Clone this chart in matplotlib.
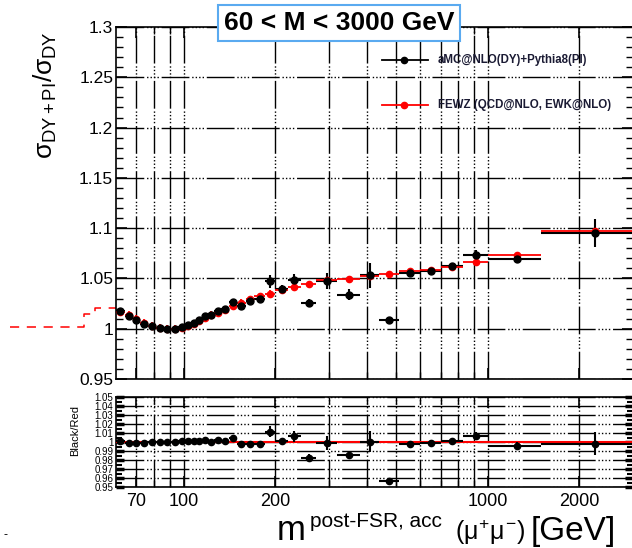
import numpy as np
import matplotlib
matplotlib.use('Agg')
import matplotlib.pyplot as plt
from matplotlib.ticker import FixedLocator, FixedFormatter, NullFormatter
from matplotlib.lines import Line2D

plt.rcParams['font.family'] = ['Liberation Sans', 'DejaVu Sans']
plt.rcParams['mathtext.fontset'] = 'custom'
plt.rcParams['mathtext.rm'] = 'Liberation Sans'
plt.rcParams['mathtext.it'] = 'Liberation Sans'
plt.rcParams['mathtext.bf'] = 'Liberation Sans:bold'

# ---------------- data ----------------
bin_edges = [60, 64, 68, 72, 76, 81, 86, 91, 96, 101, 106, 110, 115, 120, 126, 133,
             141, 150, 160, 171, 185, 200, 220, 243, 273, 320, 380, 440, 510, 600,
             700, 830, 1000, 1500, 3000]
amc_values = [1.018, 1.013, 1.009, 1.005, 1.003, 1.001, 0.9995, 1.000, 1.002, 1.004,
              1.006, 1.009, 1.013, 1.014, 1.018, 1.020, 1.027, 1.023, 1.0275, 1.030,
              1.047, 1.039, 1.048, 1.026, 1.047, 1.034, 1.053, 1.009, 1.055, 1.057,
              1.062, 1.073, 1.069, 1.095]
amc_errors = [0.003, 0.003, 0.003, 0.003, 0.002, 0.002, 0.002, 0.002, 0.002, 0.002,
              0.002, 0.002, 0.002, 0.002, 0.002, 0.002, 0.003, 0.003, 0.003, 0.003,
              0.0065, 0.004, 0.006, 0.004, 0.008, 0.005, 0.0125, 0.002, 0.003, 0.003,
              0.003, 0.005, 0.004, 0.014]
fewz_values = [1.017, 1.014, 1.010, 1.006, 1.003, 1.001, 1.000, 0.9995, 1.001, 1.003,
               1.005, 1.008, 1.011, 1.014, 1.016, 1.019, 1.0227, 1.0255, 1.030, 1.0325,
               1.035, 1.038, 1.0416, 1.044, 1.048, 1.049, 1.0526, 1.0543, 1.057, 1.058,
               1.061, 1.066, 1.0735, 1.097]
fewz_errors = [0.004, 0.004, 0.004, 0.004, 0.004, 0.004, 0.004, 0.004, 0.004, 0.004,
               0.004, 0.004, 0.004, 0.004, 0.004, 0.004, 0.004, 0.004, 0.003, 0.003,
               0.003, 0.002, 0.002, 0.003, 0.002, 0.001, 0.001, 0.001, 0.001, 0.001,
               0.001, 0.001, 0.001, 0.001]
# FEWZ bins below 60 GeV leaking outside the frame
fewz_low_edges = [27, 47, 51, 60]
fewz_low_values = [1.002, 1.0145, 1.021]

x_major = [70, 100, 200, 1000, 2000]
x_major_labels = ['70', '100', '200', '1000', '2000']
x_minor = [80, 90, 300, 400, 500, 600, 700, 800, 900]
y_main_ticks = [0.95, 1.0, 1.05, 1.1, 1.15, 1.2, 1.25, 1.3]
y_main_labels = ['0.95', '1', '1.05', '1.1', '1.15', '1.2', '1.25', '1.3']
y_ratio_ticks = [0.95, 0.96, 0.97, 0.98, 0.99, 1.0, 1.01, 1.02, 1.03, 1.04, 1.05]
y_ratio_labels = ['0.95', '0.96', '0.97', '0.98', '0.99', '1', '1.01', '1.02',
                  '1.03', '1.04', '1.05']

title_text = '60 < M < 3000 GeV'
legend_black = 'aMC@NLO(DY)+Pythia8(PI)'
legend_red = 'FEWZ (QCD@NLO, EWK@NLO)'

# ---------------- derived ----------------
edges = np.array(bin_edges, float)
lo, hi = edges[:-1], edges[1:]
centers = 0.5 * (lo + hi)
xerr = [centers - lo, hi - centers]
amc = np.array(amc_values)
amc_e = np.array(amc_errors)
fewz = np.array(fewz_values)
fewz_e = np.array(fewz_errors)
ratio = amc / fewz
ratio_e = amc_e / fewz

W, H = 632, 548
fig = plt.figure(figsize=(W / 100, H / 100), dpi=100)


def fx(px):
    return px / W


def fy(py):
    return 1 - py / H


ax = fig.add_axes([fx(116), fy(379), fx(633) - fx(116), fy(27) - fy(379)])
rax = fig.add_axes([fx(116), fy(487), fx(633) - fx(116), fy(397) - fy(487)])

grid_ls = (0, (20, 2, 1, 1.5, 1, 1.5, 1, 1.5, 1, 2))

for a in (ax, rax):
    a.set_xscale('log')
    a.set_xlim(60, 3000)
    a.xaxis.set_major_locator(FixedLocator(x_major))
    a.xaxis.set_minor_locator(FixedLocator(x_minor))
    a.xaxis.set_minor_formatter(NullFormatter())
    a.grid(True, axis='x', which='both', color='black', linewidth=1.0, linestyle=grid_ls)
    a.grid(True, axis='y', which='major', color='black', linewidth=1.0, linestyle=grid_ls)
    for s in a.spines.values():
        s.set_linewidth(1.2)
    a.set_axisbelow(True)

# main panel
ax.set_ylim(0.95, 1.3)
ax.yaxis.set_major_locator(FixedLocator(y_main_ticks))
ax.yaxis.set_major_formatter(FixedFormatter(y_main_labels))
ax.yaxis.set_minor_locator(FixedLocator(np.arange(0.95, 1.3001, 0.01)))
ax.xaxis.set_major_formatter(NullFormatter())
ax.tick_params(axis='both', which='both', direction='in', top=True, right=True)
ax.tick_params(axis='y', which='major', length=8, width=1.2, labelsize=12.5, pad=2)
ax.tick_params(axis='y', which='minor', length=5, width=1.0)
ax.tick_params(axis='x', which='major', length=8, width=1.2)
ax.tick_params(axis='x', which='minor', length=5, width=1.0)

ax.errorbar(centers, amc, xerr=xerr, yerr=amc_e, fmt='none', ecolor='black',
            elinewidth=1.5, capsize=0, zorder=3)
ax.errorbar(centers, fewz, xerr=xerr, yerr=fewz_e, fmt='none', ecolor='#ff0000',
            elinewidth=1.3, capsize=0, zorder=4)
ax.plot(centers, fewz, 'o', color='#ff0000', ms=4.5, zorder=4)
ax.plot(centers, amc, 'o', color='black', ms=5, zorder=5)
ax.step(fewz_low_edges, fewz_low_values + [fewz_low_values[-1]], where='post',
        color='#ff0000', lw=1.1, ls=(0, (6, 5)), clip_on=False, zorder=2)

# ratio panel
rax.set_ylim(0.95, 1.05)
rax.yaxis.set_major_locator(FixedLocator(y_ratio_ticks))
rax.yaxis.set_major_formatter(FixedFormatter(y_ratio_labels))
rax.yaxis.set_minor_locator(FixedLocator(np.arange(0.955, 1.05, 0.01)))
rax.xaxis.set_major_formatter(FixedFormatter(x_major_labels))
rax.tick_params(axis='both', which='both', direction='in', top=True, right=True)
rax.tick_params(axis='y', which='major', length=6, width=2.5, labelsize=7, pad=2)
rax.tick_params(axis='y', which='minor', length=4, width=1.5)
rax.tick_params(axis='x', which='major', length=8, width=1.2, labelsize=13, pad=4)
rax.tick_params(axis='x', which='minor', length=5, width=1.0)
rax.axhline(1.0, color='#ff0000', lw=1.5, zorder=3)
rax.errorbar(centers, ratio, xerr=xerr, yerr=ratio_e, fmt='o', color='black',
             ms=4.5, elinewidth=1.5, capsize=0, zorder=4)

# labels
fig.text(fx(45), fy(95), r'$\sigma_{\mathrm{DY+PI}}/\sigma_{\mathrm{DY}}$', rotation=90,
         ha='center', va='center', fontsize=19)
fig.text(fx(75), fy(430), 'Black/Red', rotation=90, ha='center', va='center', fontsize=8)
fig.text(fx(277), fy(540), 'm', ha='left', va='baseline', fontsize=25)
fig.text(fx(310), fy(527), 'post-FSR, acc', ha='left', va='baseline', fontsize=15)
fig.text(fx(455), fy(540), r'$(\mu^{+}\mu^{-})$', ha='left', va='baseline', fontsize=18)
fig.text(fx(531), fy(540), '[GeV]', ha='left', va='baseline', fontsize=24)
fig.text(fx(3), fy(538), '-', ha='left', va='baseline', fontsize=9)

# title box
fig.text(fx(339), fy(23), title_text, ha='center', va='center', fontsize=19,
         fontweight='bold', zorder=10,
         bbox=dict(boxstyle='square,pad=0.22', fc='white', ec='#5aaaf0', lw=1.5))

# legend
for ypx, col, txt in ((60, 'black', legend_black), (105, '#ff0000', legend_red)):
    fig.add_artist(Line2D([fx(382), fx(428)], [fy(ypx), fy(ypx)], color=col, lw=1.3,
                          transform=fig.transFigure))
    fig.add_artist(Line2D([fx(404)], [fy(ypx)], marker='o', color=col, ms=4.5,
                          transform=fig.transFigure))
    fig.text(fx(438), fy(ypx), txt, ha='left', va='center', fontsize=8.3,
             fontweight='bold', color='#1a1a33')

fig.savefig('out.png', dpi=100)
